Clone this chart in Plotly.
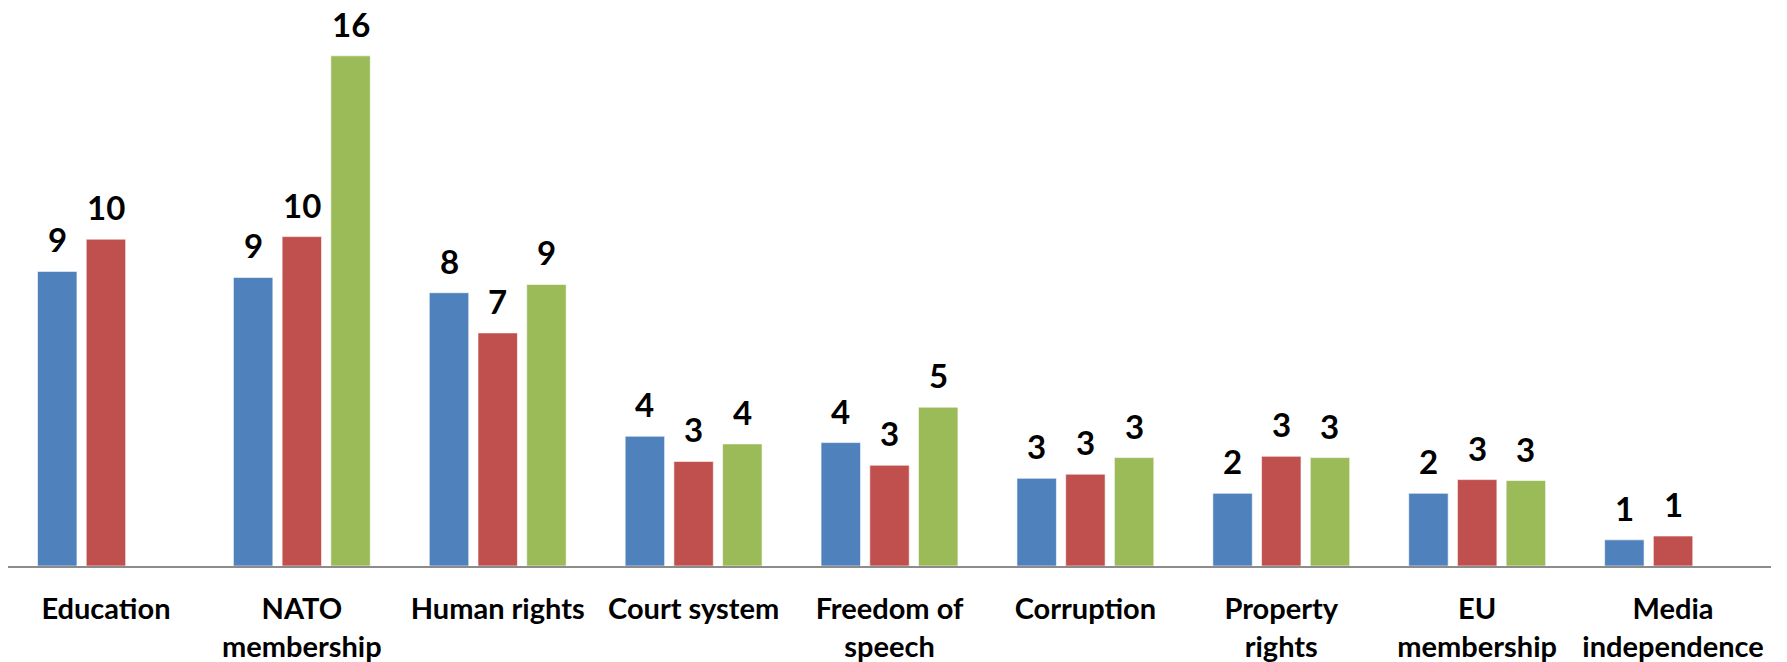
import plotly.graph_objects as go

categories = ["Education", "NATO<br>membership", "Human rights", "Court system",
              "Freedom of<br>speech", "Corruption", "Property<br>rights",
              "EU<br>membership", "Media<br>independence"]
series_names = ["Series 1", "Series 2", "Series 3"]
blue_vals = [9.24, 9.05, 8.57, 4.07, 3.87, 2.75, 2.28, 2.28, 0.82]
red_vals = [10.25, 10.33, 7.31, 3.28, 3.16, 2.88, 3.44, 2.71, 0.94]
green_vals = [None, 16.0, 8.83, 3.83, 4.98, 3.40, 3.40, 2.68, None]
blue_labels = ["9", "9", "8", "4", "4", "3", "2", "2", "1"]
red_labels = ["10", "10", "7", "3", "3", "3", "3", "3", "1"]
green_labels = ["", "16", "9", "4", "5", "3", "3", "3", ""]

colors = ["#4F81BD", "#C0504D", "#9BBB59"]
all_vals = [blue_vals, red_vals, green_vals]
all_labels = [blue_labels, red_labels, green_labels]

W, H = 1787, 662
ML, MR, MT, MB = 8, 16, 8, 96
BARGAP = 0.254
BARGROUPGAP = 0.19

fig = go.Figure()
for name, vals, col in zip(series_names, all_vals, colors):
    fig.add_trace(go.Bar(
        x=categories, y=vals, name=name,
        marker=dict(color=col, line=dict(color="rgba(255,255,255,0.6)", width=1)),
        hoverinfo="skip",
    ))

# data labels as annotations above each bar, offset to match bar slots
plot_w = W - ML - MR
cat_w = plot_w / len(categories)
slot = cat_w * (1 - BARGAP) / len(series_names)
annotations = []
for i, (vals, labs) in enumerate(zip(all_vals, all_labels)):
    off = (i - (len(series_names) - 1) / 2) * slot
    for c, v, t in zip(categories, vals, labs):
        if v is None or t == "":
            continue
        annotations.append(dict(
            x=c, y=v, text=t, showarrow=False, xref="x", yref="y",
            yanchor="bottom", xanchor="center", xshift=off, yshift=10,
            font=dict(family="Lato", size=33, color="#000000", weight="bold"),
        ))

fig.update_layout(
    width=W, height=H,
    margin=dict(l=ML, r=MR, t=MT, b=MB, pad=0, autoexpand=False),
    barmode="group", bargap=BARGAP, bargroupgap=BARGROUPGAP,
    plot_bgcolor="white", paper_bgcolor="white",
    showlegend=False,
    annotations=annotations,
    xaxis=dict(
        showline=True, linecolor="#8C8C8C", linewidth=1.5,
        showgrid=False, zeroline=False, ticks="",
        ticklabelstandoff=17, automargin=False,
        tickfont=dict(family="Lato", size=29, color="#000000", weight="bold"),
        fixedrange=True,
    ),
    yaxis=dict(
        range=[0, 17.5], visible=False, showgrid=False, zeroline=False,
        fixedrange=True, automargin=False,
    ),
)

fig.write_html("out.html",
               config={"displayModeBar": False, "staticPlot": True},
               post_script="document.body.style.margin='0';document.body.style.overflow='hidden';")
